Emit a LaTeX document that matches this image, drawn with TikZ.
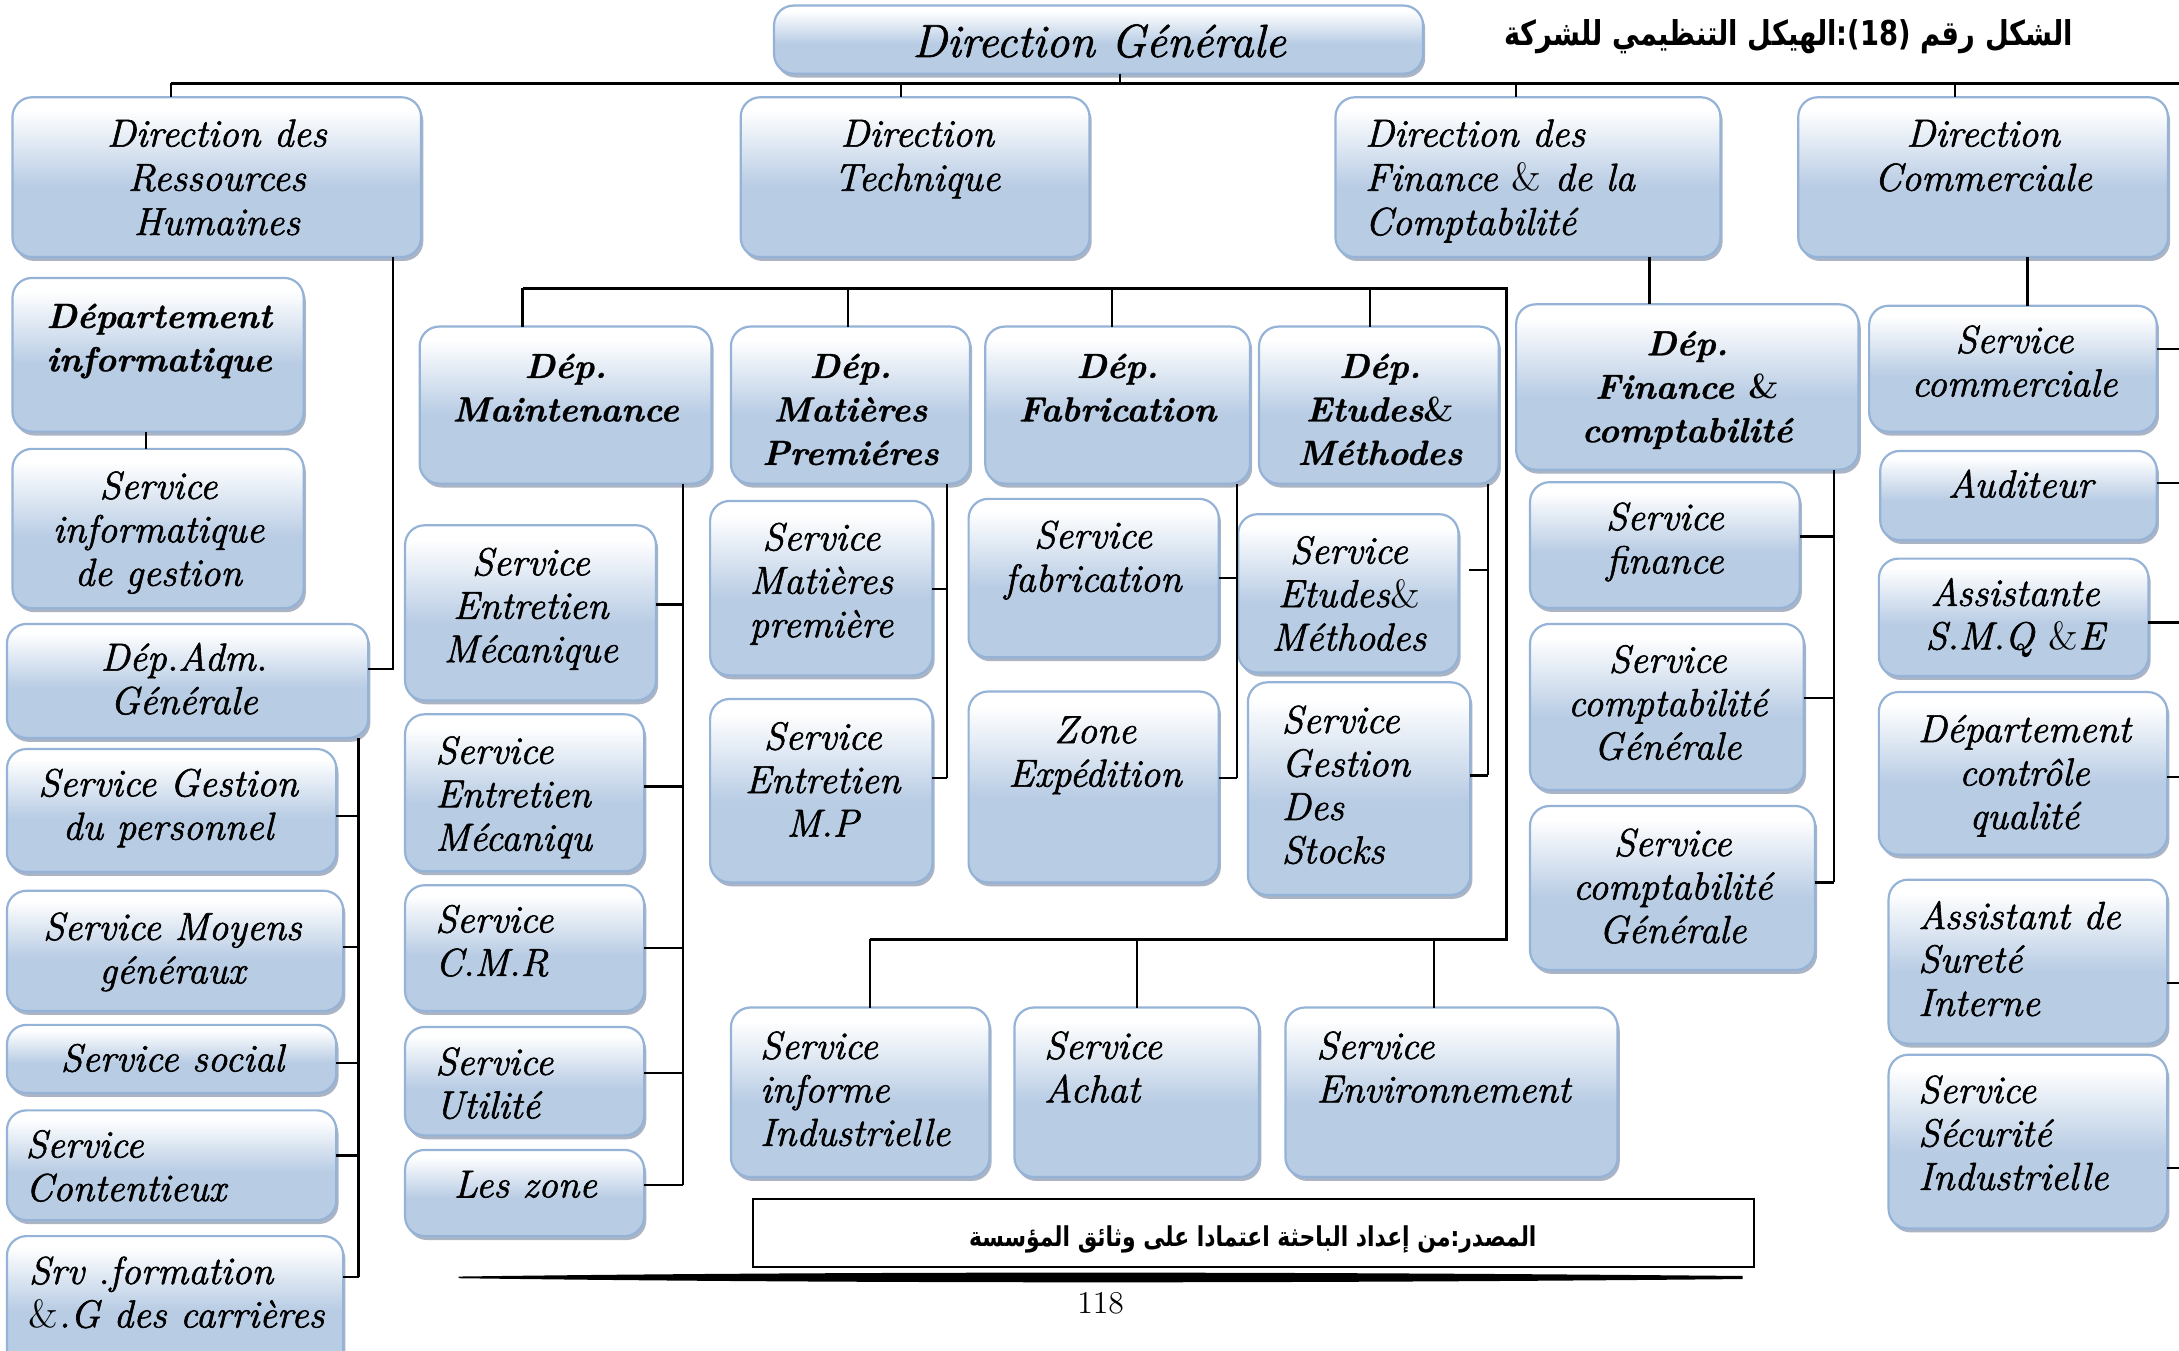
\documentclass[tikz,border=0pt]{standalone}
\usepackage{fontspec}
\usetikzlibrary{shadows}
\setmainfont{lmroman12-regular.otf}[
  ItalicFont=lmroman12-italic.otf,
  BoldFont=lmroman12-bold.otf,
  BoldItalicFont=lmroman10-bolditalic.otf,
  ItalicFeatures={FakeBold=1.5},
  BoldItalicFeatures={FakeBold=0.8}]
\newfontfamily\arabicfont[Script=Arabic,FakeStretch=0.8]{DejaVu Sans}
\TeXXeTstate=1

\definecolor{boxblue}{RGB}{184,204,228}
\definecolor{boxedge}{RGB}{149,179,215}
\definecolor{boxshadow}{RGB}{125,140,165}
% white on top, steel blue on the lower half
\pgfdeclareverticalshading{boxshade}{100bp}{color(0bp)=(boxblue); color(25bp)=(boxblue); color(47bp)=(boxblue); color(71bp)=(white); color(100bp)=(white)}

% fonts
\newcommand\fsvc{\fontsize{16}{17.8}\selectfont\itshape}
\newcommand\fhd{\fontsize{16}{18.1}\selectfont\itshape}
\newcommand\fdep{\fontsize{14.3}{17.8}\selectfont\bfseries\itshape}
\newcommand\fdg{\fontsize{19}{21}\selectfont\itshape}
\newcommand\amp{\textup{\&}}

% a box of the chart: name, x1, y1, x2, y2 (y grows downwards)
\newcommand\obox[6][]{%
  \node[orgbox,#1,minimum width={(#5-#3)*0.02cm},minimum height={(#6-#4)*0.02cm}]
    (#2) at ({(#3+#5)/2},{(#4+#6)/2}) {};}
% text set on its first baseline: centred or flush left
\newcommand\ctxt[5]{\node[inner sep=0pt,anchor=base,font=#2] (#1) at (#3,#4)
  {\begin{tabular}[t]{@{}c@{}}#5\end{tabular}};}
\newcommand\ltxt[5]{\node[inner sep=0pt,anchor=base west,font=#2] (#1) at (#3,#4)
  {\begin{tabular}[t]{@{}l@{}}#5\end{tabular}};}

\tikzset{
  orgbox/.style={shade, shading=boxshade, draw=boxedge, line width=0.9pt,
    rounded corners=8pt, inner sep=0pt, outer sep=0pt,
    drop shadow={shadow xshift=0.9pt, shadow yshift=-1.6pt, fill=boxshadow, opacity=0.65}},
  link/.style={draw=black, line width=0.9pt},
  bus/.style={draw=black, line width=1.3pt},
  srcframe/.style={draw=black, line width=0.9pt, inner sep=0pt, outer sep=0pt},
}

\begin{document}
\begin{tikzpicture}[x=0.02cm,y=-0.02cm]
\useasboundingbox (0,0) rectangle (1568,972);
\clip (0,0) rectangle (1568,972);
\fill[white] (0,0) rectangle (1568,972);

% ---------- heading ----------
\obox{dg}{557}{4}{1024}{53}
\ctxt{dgt}{\fdg}{791}{41}{Direction Générale}
\node[anchor=base east, inner sep=0pt, font=\arabicfont\bfseries\fontsize{14}{16}\selectfont] (fig)
  at (1492,33) {\beginR الشكل رقم \beginL(18):\endL الهيكل التنظيمي للشركة\endR};

% ---------- directions ----------
\obox{drh}{9}{70}{303}{185}
\ctxt{drht}{\fhd}{156}{105.5}{Direction des\\Ressources\\Humaines}
\obox{dt}{533}{70}{784}{185}
\ctxt{dtt}{\fhd}{660}{105.5}{Direction\\Technique}
\obox{dfc}{961}{70}{1238}{185}
\ltxt{dfct}{\fhd}{982}{105.5}{Direction des\\Finance \amp{} de la\\Comptabilité}
\obox{dc}{1294}{70}{1560}{185}
\ctxt{dct}{\fhd}{1427}{105.5}{Direction\\Commerciale}

% ---------- human resources ----------
\obox{dinf}{9}{200}{218.5}{310.6}
\ctxt{dinft}{\fdep}{114.5}{236}{Département\\informatique}
\obox{sig}{9}{323}{218.5}{437.7}
\ctxt{sigt}{\fsvc}{114}{359}{Service\\informatique\\de gestion}
\obox{adm}{5}{449}{265}{531}
\ctxt{admt}{\fsvc}{132.4}{482.6}{Dép.Adm.\\Générale}
\obox{gp}{5}{539}{242}{627.5}
\ctxt{gpt}{\fsvc}{121}{573}{Service Gestion\\du personnel}
\obox{mg}{5}{641}{247}{727.5}
\ctxt{mgt}{\fsvc}{124}{676.4}{Service Moyens\\généraux}
\obox{so}{5}{737.5}{242}{786.5}
\ctxt{sot}{\fsvc}{124}{771}{Service social}
\obox{co}{5}{799}{242}{878}
\ltxt{cot}{\fsvc}{18.2}{833}{Service\\Contentieux}
\obox{sf}{5}{889.5}{247}{985}
\ltxt{sft}{\fsvc}{20.5}{924}{Srv .formation\\\amp.G des carrières}

% ---------- maintenance ----------
\obox{mt}{302}{235}{512}{348}
\ctxt{mtt}{\fdep}{407}{272}{Dép.\\Maintenance}
\obox{sem}{291.5}{378}{472}{504}
\ctxt{semt}{\fsvc}{382}{414}{Service\\Entretien\\Mécanique}
\obox{semq}{291.5}{514}{463.5}{627}
\ltxt{semqt}{\fsvc}{313}{549.6}{Service\\Entretien\\Mécaniqu}
\obox{cmr}{291.5}{637}{463.5}{727.5}
\ltxt{cmrt}{\fsvc}{313}{671}{Service\\C.M.R}
\obox{ut}{291.5}{739}{463.5}{817}
\ltxt{utt}{\fsvc}{313}{773.5}{Service\\Utilité}
\obox{lz}{291.5}{827.5}{463.5}{889.5}
\ctxt{lzt}{\fsvc}{378}{861.7}{Les zone}

% ---------- raw materials ----------
\obox{mp}{526}{235}{698}{348}
\ctxt{mpt}{\fdep}{612}{272}{Dép.\\Matières\\Premiéres}
\obox{smp}{511}{360.5}{671}{486}
\ctxt{smpt}{\fsvc}{591}{396}{Service\\Matières\\première}
\obox{semp}{511}{503}{671}{635}
\ctxt{sempt}{\fsvc}{592}{539.4}{Service\\Entretien\\M.P}

% ---------- production ----------
\obox{fab}{709}{235}{899.5}{348}
\ctxt{fabt}{\fdep}{804}{272}{Dép.\\Fabrication}
\obox{sfab}{697}{359}{877}{473}
\ctxt{sfabt}{\fsvc}{786.5}{394.5}{Service\\fabrication}
\obox{ze}{697}{497.6}{877}{635}
\ctxt{zet}{\fsvc}{788}{534.8}{Zone\\Expédition}

% ---------- studies & methods ----------
\obox{et}{906}{235}{1078.5}{348}
\ctxt{ett}{\fdep}{993}{272}{Dép.\\Etudes\amp\\Méthodes}
\obox{seme}{891}{370}{1049.5}{484}
\ctxt{semet}{\fsvc}{970.6}{405.6}{Service\\Etudes\amp\\Méthodes}
\obox{sgs}{898}{491}{1058}{644}
\ltxt{sgst}{\fsvc}{922}{527.5}{Service\\Gestion\\Des\\Stocks}

% ---------- lower row ----------
\obox{sii}{526}{725}{712}{847}
\ltxt{siit}{\fsvc}{546.6}{762}{Service\\informe\\Industrielle}
\obox{ach}{730}{725}{906}{847}
\ltxt{acht}{\fsvc}{751}{762}{Service\\Achat}
\obox{env}{925}{725}{1164}{847}
\ltxt{envt}{\fsvc}{947}{762}{Service\\Environnement}

% ---------- finance ----------
\obox{dfin}{1091}{219}{1337.4}{338}
\ctxt{dfint}{\fdep}{1214}{255.7}{Dép.\\Finance \amp\\comptabilité}
\obox{sfin}{1101}{347}{1295}{437.5}
\ctxt{sfint}{\fsvc}{1198}{381.4}{Service\\finance}
\obox{scg}{1101}{449}{1298}{568.5}
\ctxt{scgt}{\fsvc}{1200}{484}{Service\\comptabilité\\Générale}
\obox{scgb}{1101}{580}{1306}{698}
\ctxt{scgbt}{\fsvc}{1203.6}{616}{Service\\comptabilité\\Générale}

% ---------- commercial ----------
\obox{sc}{1345}{220}{1552}{310.7}
\ctxt{sct}{\fsvc}{1449.6}{254}{Service\\commerciale}
\obox{aud}{1353}{324.5}{1552}{388.6}
\ctxt{audt}{\fsvc}{1454}{358}{Auditeur}
\obox{smq}{1352}{402}{1546}{486.5}
\ctxt{smqt}{\fsvc}{1450}{436}{Assistante\\S.M.Q \amp E}
\obox{dcq}{1352}{498}{1559.5}{615}
\ctxt{dcqt}{\fsvc}{1456.7}{534}{Département\\contrôle\\qualité}
\obox{asi}{1359}{633}{1559.5}{751}
\ltxt{asit}{\fsvc}{1380}{668.5}{Assistant de\\Sureté\\Interne}
\obox{ssi}{1359}{759}{1559.5}{884}
\ltxt{ssit}{\fsvc}{1380}{793.7}{Service\\Sécurité\\Industrielle}

% ---------- connectors ----------
% top bus
\coordinate (busW) at (123,60);
\coordinate (busE) at (1568,60);
\coordinate (dgj) at (806,60);
\coordinate (dtj) at (648.6,60);
\coordinate (dfcj) at (1091,60);
\coordinate (dcj) at (1407,60);
\draw[bus] (busW) -- (busE);
\draw[link] (dgj |- dg.south) -- (dgj);
\draw[link] (busW) -- (busW |- drh.north);
\draw[link] (dtj) -- (dtj |- dt.north);
\draw[link] (dfcj) -- (dfcj |- dfc.north);
\draw[link] (dcj) -- (dcj |- dc.north);

% human resources
\coordinate (rhx) at (283,481.5);
\draw[link] (rhx |- drh.south) -- (rhx) -- (adm.east |- rhx);
\coordinate (infx) at (105,0);
\draw[link] (infx |- dinf.south) -- (infx |- sig.north);
\coordinate (hrT) at (258,919);
\draw[link] (hrT |- adm.south) -- (hrT);
\foreach \n/\y in {gp/587,mg/681.5,so/765,co/831.5,sf/919}
  \draw[link] (\n.east |- 0,\y) -- (hrT |- 0,\y);

% technical bus and its lower row
\coordinate (tbW) at (376,207.5);
\coordinate (tbE) at (1084,207.5);
\coordinate (tbS) at (1084,676);
\coordinate (lbW) at (626,676);
\draw[bus] (tbW) -- (tbE) -- (tbS) -- (lbW);
\draw[link] (tbW) -- (tbW |- mt.north);
\foreach \n/\x in {mp/610,fab/800,et/986}
  \draw[link] (\x,207.5) -- (\x,0 |- \n.north);
\foreach \n/\x in {sii/626,ach/818,env/1032}
  \draw[link] (\x,676) -- (\x,0 |- \n.north);

% maintenance
\coordinate (mtT) at (491.5,852.6);
\draw[link] (mtT |- mt.south) -- (mtT);
\foreach \n/\y in {sem/435,semq/566,cmr/682,ut/772,lz/852.6}
  \draw[link] (\n.east |- 0,\y) -- (mtT |- 0,\y);

% raw materials
\coordinate (mpT) at (681.5,560);
\draw[link] (mpT |- mp.south) -- (mpT);
\foreach \n/\y in {smp/424,semp/560}
  \draw[link] (\n.east |- 0,\y) -- (mpT |- 0,\y);

% production
\coordinate (fabT) at (890,560);
\draw[link] (fabT |- fab.south) -- (fabT);
\foreach \n/\y in {sfab/416,ze/560}
  \draw[link] (\n.east |- 0,\y) -- (fabT |- 0,\y);

% studies & methods
\coordinate (etT) at (1071,558);
\coordinate (semej) at (1057,410);
\draw[link] (etT |- et.south) -- (etT);
\draw[link] (semej) -- (etT |- semej);
\draw[link] (sgs.east |- 0,558) -- (etT);

% finance
\coordinate (finx) at (1187,0);
\draw[link] (finx |- dfc.south) -- (finx |- dfin.north);
\coordinate (finT) at (1320,635);
\draw[link] (finT |- dfin.south) -- (finT);
\foreach \n/\y in {sfin/386,scg/502,scgb/635}
  \draw[link] (\n.east |- 0,\y) -- (finT |- 0,\y);

% commercial
\coordinate (comx) at (1459,0);
\draw[link] (comx |- dc.south) -- (comx |- sc.north);
\coordinate (comE) at (1568,0);
\foreach \n/\y in {sc/251,aud/347.4,smq/448,dcq/559,asi/707.6,ssi/840.5}
  \draw[link] (\n.east |- 0,\y) -- (comE |- 0,\y);

% ---------- source note and page foot ----------
\node[srcframe, minimum width={(1262-541.6)*0.02cm}, minimum height={(912-863)*0.02cm}]
  (src) at ({(541.6+1262)/2},{(863+912)/2}) {};
\node[anchor=base, inner sep=0pt, font=\arabicfont\bfseries\fontsize{11.2}{13}\selectfont] (srct)
  at (901.5,897) {\beginR المصدر:من إعداد الباحثة اعتمادا على وثائق المؤسسة\endR};
\fill[black] (330,918.6) .. controls (600,915) and (900,914.8) .. (1254,918.2)
  -- (1254,920.4) .. controls (900,923.8) and (600,923.4) .. (330,919.8) -- cycle;
\node[inner sep=0pt, font=\fontsize{13}{15}\selectfont] (pg) at (792,938) {118};
\end{tikzpicture}
\end{document}
